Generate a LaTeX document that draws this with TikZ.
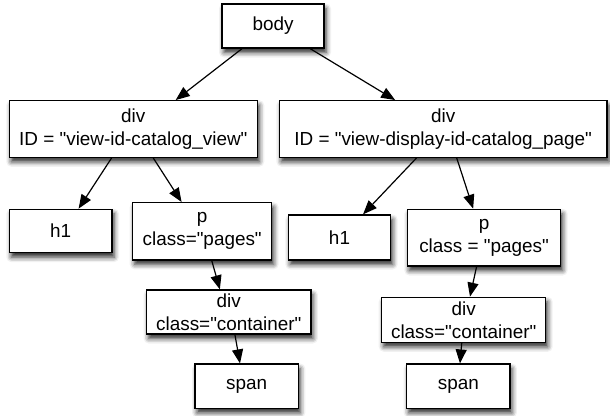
\documentclass[tikz,border=0pt]{standalone}
\usepackage{fontspec}
\setmainfont{Liberation Sans}[Ligatures=TeXOff]
\usetikzlibrary{arrows.meta,calc,shadows.blur}
\begin{document}
\begin{tikzpicture}[x=1pt,y=-1pt,
  box/.style={draw=black,line width=1.3pt,fill=white,inner sep=0pt,align=center,
    font=\fontsize{18.9}{23}\selectfont,
    blur shadow={shadow xshift=2pt,shadow yshift=-4.5pt,shadow blur radius=5pt,shadow opacity=85}},
  link/.style={line width=1.2pt,-{Triangle[length=14pt,width=11pt]}}]
\useasboundingbox (0,0) rectangle (610,415);
\node[box,minimum width=102pt,minimum height=44pt] (body) at (273,26) {body};
\node[box,minimum width=248pt,minimum height=56.6pt] (div1) at (133.3,129) {div\\ID = "view-id-catalog\_view"};
\node[box,minimum width=327.7pt,minimum height=56.6pt] (div2) at (443.2,129) {div\\ID = "view-display-id-catalog\_page"};
\node[box,minimum width=102.7pt,minimum height=43.4pt] (h1a) at (60.7,231) {h1};
\node[box,minimum width=139pt,minimum height=57.3pt] (pa) at (202.2,231.3) {p\\class="pages"};
\node[box,minimum width=102.4pt,minimum height=45pt] (h1b) at (339.5,237.5) {h1};
\node[box,minimum width=153.4pt,minimum height=56.7pt] (pb) at (484,237.7) {p\\class = "pages"};
\node[box,minimum width=164.3pt,minimum height=44pt] (ca) at (228.8,312) {div\\class="container"};
\node[box,minimum width=164pt,minimum height=45pt] (cb) at (463.7,319.8) {div\\class="container"};
\node[box,minimum width=103.3pt,minimum height=44.3pt] (spa) at (246.7,386.2) {span};
\node[box,minimum width=103.3pt,minimum height=44.3pt] (spb) at (458.3,386.2) {span};
\draw[link] ($(body.south west)!0.2!(body.south east)$) -- ($(div1.north west)!0.67!(div1.north east)$);
\draw[link] ($(body.south west)!0.86!(body.south east)$) -- ($(div2.north west)!0.354!(div2.north east)$);
\draw[link] ($(div1.south west)!0.413!(div1.south east)$) -- ($(h1a.north west)!0.672!(h1a.north east)$);
\draw[link] ($(div1.south west)!0.58!(div1.south east)$) -- ($(pa.north west)!0.353!(pa.north east)$);
\draw[link] ($(div2.south west)!0.419!(div2.south east)$) -- ($(h1b.north west)!0.727!(h1b.north east)$);
\draw[link] ($(div2.south west)!0.541!(div2.south east)$) -- ($(pb.north west)!0.43!(pb.north east)$);
\draw[link] ($(pa.south west)!0.568!(pa.south east)$) -- ($(ca.north west)!0.446!(ca.north east)$);
\draw[link] ($(ca.south west)!0.537!(ca.south east)$) -- ($(spa.north west)!0.436!(spa.north east)$);
\draw[link] ($(pb.south west)!0.452!(pb.south east)$) -- ($(cb.north west)!0.538!(cb.north east)$);
\draw[link] ($(cb.south west)!0.488!(cb.south east)$) -- ($(spb.north west)!0.516!(spb.north east)$);
\end{tikzpicture}
\end{document}
